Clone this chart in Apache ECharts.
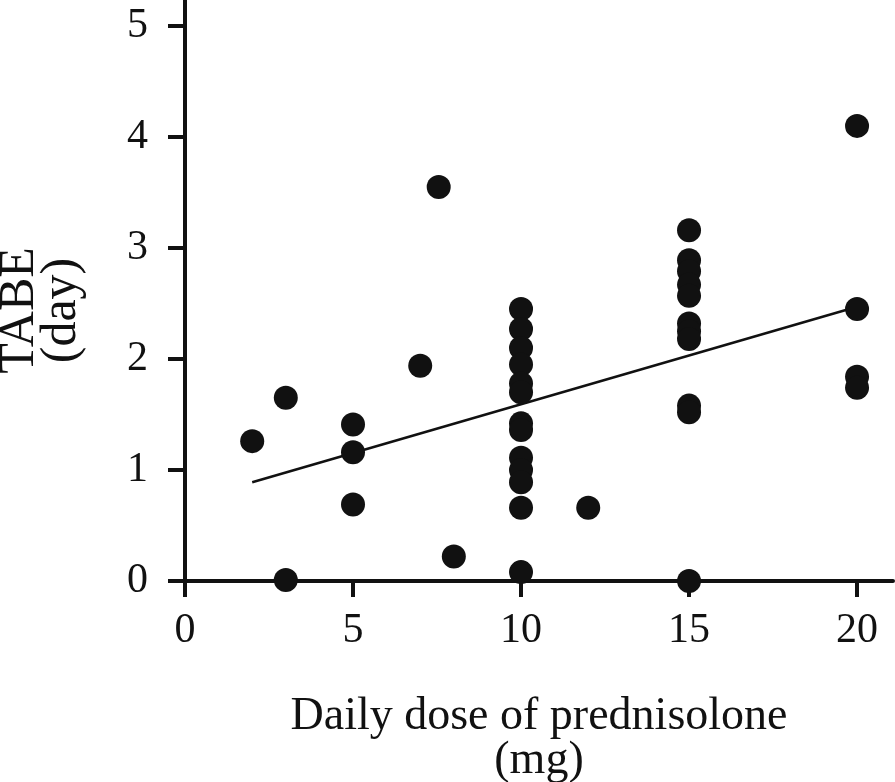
<!DOCTYPE html>
<html>
<head>
<meta charset="utf-8">
<script src="https://cdn.jsdelivr.net/npm/echarts@6/dist/echarts.min.js"></script>
<style>
html,body{margin:0;padding:0;background:#fff;}
#chart{width:895px;height:782px;}
</style>
</head>
<body>
<div id="chart"></div>
<script>
// Data
const doseValues = [2, 3, 3, 5, 5, 5, 7, 7.55, 8,
  10, 10, 10, 10, 10, 10, 10, 10, 10, 10, 10, 10, 10,
  12,
  15, 15, 15, 15, 15, 15, 15, 15, 15, 15, 15,
  20, 20, 20, 20];
const tabeValues = [1.26, 1.65, 0.01, 1.41, 1.16, 0.69, 1.94, 3.55, 0.22,
  2.45, 2.27, 2.10, 1.95, 1.78, 1.70, 1.42, 1.36, 1.11, 1.00, 0.89, 0.66, 0.08,
  0.66,
  3.16, 2.89, 2.79, 2.67, 2.57, 2.32, 2.25, 2.18, 1.58, 1.52, 0.00,
  4.10, 2.45, 1.84, 1.74];
const trendX = [2, 20];
const trendY = [0.89, 2.47];
const xTicks = [0, 5, 10, 15, 20];
const yTicks = [0, 1, 2, 3, 4, 5];
const xTitle = 'Daily dose of prednisolone\n(mg)';
const yTitle = 'TABE\n(day)';

const ink = '#111111';
const font = '"Liberation Serif", "DejaVu Serif", serif';

const points = doseValues.map((d, i) => [d, tabeValues[i]]);
const trend = trendX.map((d, i) => [d, trendY[i]]);

const chart = echarts.init(document.getElementById('chart'), null, {renderer: 'canvas'});
chart.setOption({
  animation: false,
  backgroundColor: '#ffffff',
  grid: {left: 185, right: 2, top: 0, bottom: 201, containLabel: false, outerBoundsMode: 'none'},
  xAxis: {
    type: 'value',
    min: 0,
    max: 21.07,
    splitLine: {show: false},
    axisLine: {show: true, onZero: false, lineStyle: {color: ink, width: 4}},
    axisTick: {show: true, length: 16, lineStyle: {color: ink, width: 4}, customValues: xTicks},
    axisLabel: {show: true, margin: 29, color: ink, fontFamily: font, fontSize: 42, customValues: xTicks},
    name: xTitle,
    nameLocation: 'middle',
    nameGap: 114,
    nameTextStyle: {color: ink, fontFamily: font, fontSize: 46, lineHeight: 44}
  },
  yAxis: {
    type: 'value',
    min: 0,
    max: 5.234,
    splitLine: {show: false},
    axisLine: {show: true, onZero: false, lineStyle: {color: ink, width: 4}},
    axisTick: {show: true, length: 17, lineStyle: {color: ink, width: 4}, customValues: yTicks},
    axisLabel: {show: true, margin: 37, color: ink, fontFamily: font, fontSize: 42, customValues: yTicks},
    name: yTitle,
    nameLocation: 'middle',
    nameRotate: 90,
    nameGap: 102,
    nameTextStyle: {color: ink, fontFamily: font, fontSize: 50, lineHeight: 42, padding: [0, 40, 0, 0]}
  },
  series: [
    {
      type: 'scatter',
      data: points,
      symbol: 'circle',
      symbolSize: 24,
      clip: false,
      itemStyle: {color: ink, opacity: 1},
      z: 3
    },
    {
      type: 'line',
      data: trend,
      symbol: 'none',
      lineStyle: {color: ink, width: 2.5},
      z: 2
    }
  ]
});
</script>
</body>
</html>
